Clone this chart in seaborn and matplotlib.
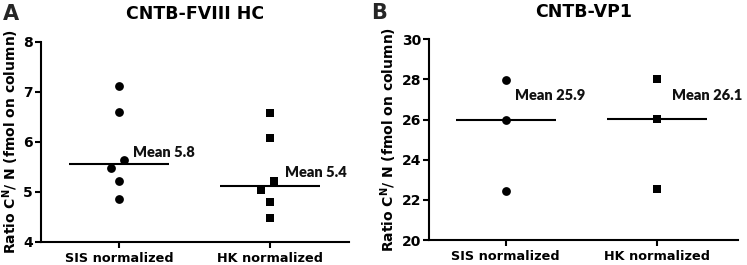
import numpy as np
import pandas as pd
import matplotlib
matplotlib.use("Agg")
import matplotlib.pyplot as plt
import seaborn as sns

# ---------------- data ----------------
categories = ["SIS normalized", "HK normalized"]
fviii_sis = [7.12, 6.59, 5.64, 5.47, 5.22, 4.86]
fviii_hk = [6.57, 6.07, 5.21, 5.04, 4.80, 4.47]
vp1_sis = [27.97, 26.00, 22.45]
vp1_hk = [28.03, 26.02, 22.52]
mean_labels_a = ["Mean 5.8", "Mean 5.4"]
mean_labels_b = ["Mean 25.9", "Mean 26.1"]
titles = ["CNTB-FVIII HC", "CNTB-VP1"]
panel_letters = ["A", "B"]
yticks_a = [4, 5, 6, 7, 8]
yticks_b = [20, 22, 24, 26, 28, 30]
markers = ["o", "s"]

sns.set_theme(style="ticks")
FONT = "Arimo"
plt.rcParams["font.family"] = [FONT, "DejaVu Sans"]
plt.rcParams["font.weight"] = "bold"
plt.rcParams["mathtext.fontset"] = "custom"
plt.rcParams["mathtext.rm"] = FONT + ":bold"
plt.rcParams["mathtext.it"] = FONT + ":bold"
plt.rcParams["mathtext.bf"] = FONT + ":bold"

fig = plt.figure(figsize=(7.47, 2.65), dpi=100)
ax_a = fig.add_axes([0.0549, 0.0868, 0.4121, 0.7562])
ax_b = fig.add_axes([0.5747, 0.0943, 0.4133, 0.7574])

panels = [
    (ax_a, [fviii_sis, fviii_hk], mean_labels_a, yticks_a, (-0.517, 1.523),
     [(0.09, 5.78), (1.10, 5.38)]),
    (ax_b, [vp1_sis, vp1_hk], mean_labels_b, yticks_b, (-0.506, 1.538),
     [(0.06, 27.2), (1.10, 27.2)]),
]

bold = dict(fontweight="bold", family=[FONT, "DejaVu Sans"])

for i, (ax, groups, mlabels, yticks, xlim, lab_pos) in enumerate(panels):
    df = pd.DataFrame({
        "group": np.repeat(categories, [len(g) for g in groups]),
        "value": np.concatenate(groups),
    })
    for j, cat in enumerate(categories):
        sns.swarmplot(data=df[df["group"] == cat], x="group", y="value",
                      order=categories, marker=markers[j], color="black",
                      size=10.5, linewidth=0, ax=ax)
        med = np.median(groups[j])
        ax.hlines(med, j - 0.33, j + 0.33, color="black", lw=1.5, zorder=1)
        ax.text(lab_pos[j][0], lab_pos[j][1], mlabels[j], ha="left", va="center",
                fontsize=10.5, fontweight="heavy", family=["Lato", "DejaVu Sans"],
                color="#111111")
    ax.set_xlim(*xlim)
    ax.set_ylim(yticks[0], yticks[-1])
    ax.set_yticks(yticks)
    ax.set_yticklabels([str(t) for t in yticks], fontsize=10, **bold)
    ax.set_xticks([0, 1])
    ax.set_xticklabels(categories, fontsize=9.3, **bold)
    ax.tick_params(axis="y", width=1.5, length=4, direction="out",
                   color="black", pad=2, labelcolor="black")
    ax.tick_params(axis="x", width=1.5, length=4, direction="out", color="black",
                   pad=3, labelcolor="black")
    ax.set_xlabel("")
    ax.set_ylabel(r"Ratio C$^{N}$/ N (fmol on column)", fontsize=10,
                  labelpad=1.5, color="black", **bold)
    ax.set_title(titles[i], fontsize=12.5, pad=16, color="black", **bold)
    sns.despine(ax=ax)
    for s in ["left", "bottom"]:
        ax.spines[s].set_linewidth(1.5)
        ax.spines[s].set_color("black")
    ax.set_facecolor("white")

fig.text(0.004, 0.985, panel_letters[0], fontsize=15, va="top", ha="left", **bold)
fig.text(0.497, 0.99, panel_letters[1], fontsize=15, va="top", ha="left", **bold)

# compute swarm positions with a wider spacing, then freeze them and shrink markers
fig.canvas.draw()
for ax in (ax_a, ax_b):
    for coll in ax.collections:
        if "draw" in coll.__dict__:
            del coll.draw
            coll.set_sizes([40])

fig.savefig("out.png", dpi=100, facecolor="white")
